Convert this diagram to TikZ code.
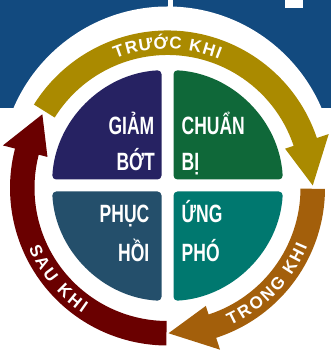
\documentclass[tikz,border=0pt]{standalone}
\usepackage{fontspec}
\setmainfont{Liberation Sans}
\newfontfamily\quadfont[FakeStretch=0.7]{Liberation Sans}
\usetikzlibrary{calc}
\definecolor{bgblue}{RGB}{18,74,127}
\definecolor{cgold}{RGB}{170,138,0}
\definecolor{corange}{RGB}{163,95,11}
\definecolor{cred}{RGB}{106,0,0}
\definecolor{cpurple}{RGB}{38,34,98}
\definecolor{cgreen}{RGB}{15,104,57}
\definecolor{cslate}{RGB}{36,79,107}
\definecolor{cteal}{RGB}{0,120,111}
\tikzset{
  quadtext/.style={text=white, inner sep=0pt, font=\quadfont\bfseries\fontsize{25}{25}\selectfont},
  arcletter/.style={text=white, inner sep=0pt, anchor=base, font=\bfseries\fontsize{17}{17}\selectfont},
  quadshape/.style={rounded corners=4pt}
}
\begin{document}
\begin{tikzpicture}[x=1pt,y=1pt]
\useasboundingbox (0,0) rectangle (331,352);
% background
\fill[bgblue] (0,244) rectangle (331,352);
\fill[white] (167.5,178) circle[radius=167.5];
\fill[white] (168.3,340) rectangle (173.3,352);
\fill[white] (285,343.7) rectangle (303,352);
% ring arrows
\coordinate (C) at (167.5,164);
\begin{scope}[shift={(C)}]
\fill[cgold] (148:133) arc[start angle=148,end angle=18.5,radius=133] -- (18.5:124) -- (1:145.25) -- (18.5:170) -- (18.5:157.5) arc[start angle=18.5,end angle=148,radius=157.5] -- cycle;
\fill[corange] (-0.3:133) arc[start angle=-0.3,end angle=-72,radius=133] -- (-72:124) -- (-89.6:145.25) -- (-72:170) -- (-72:157.5) arc[start angle=-72,end angle=-0.3,radius=157.5] -- cycle;
\fill[cred] (-90.4:133) arc[start angle=-90.4,end angle=-194.5,radius=133] -- (-194.5:124) -- (-210.5:145.25) -- (-194.5:170) -- (-194.5:157.5) arc[start angle=-194.5,end angle=-90.4,radius=157.5] -- cycle;
\end{scope}
% quadrants
\coordinate (Q) at (167.5,166.5);
\begin{scope}[shift={(Q)}]
\fill[cpurple,quadshape] (-6,6) -- (92.98:115.5) arc[start angle=92.98,end angle=177.02,radius=115.5] -- cycle;
\fill[cgreen,quadshape] (6,6) -- (2.98:115.5) arc[start angle=2.98,end angle=87.02,radius=115.5] -- cycle;
\fill[cslate,quadshape] (-6,-6) -- (182.98:115.5) arc[start angle=182.98,end angle=267.02,radius=115.5] -- cycle;
\fill[cteal,quadshape] (6,-6) -- (272.98:115.5) arc[start angle=272.98,end angle=357.02,radius=115.5] -- cycle;
\end{scope}
% quadrant texts
\node[quadtext,anchor=base east] (giam) at (154.5,217) {GIẢM};
\node[quadtext,anchor=base east] (bot) at (155,181) {BỚT};
\node[quadtext,anchor=base west] (chuan) at (181.5,217) {CHUẨN};
\node[quadtext,anchor=base west] (bi) at (181.5,181) {BỊ};
\node[quadtext,anchor=base east] (phuc) at (149.5,129) {PHỤC};
\node[quadtext,anchor=base east] (hoi) at (149.5,90.5) {HỒI};
\node[quadtext,anchor=base west] (ung) at (181.5,129) {ỨNG};
\node[quadtext,anchor=base west] (pho) at (181.5,90.5) {PHÓ};
% arc texts
\foreach \ch/\a [count=\i] in {T/109.8,R/104.4,Ư/98.65,Ớ/92.6,C/86.8,K/78.9,H/73.3,I/69.2}
  \node[arcletter,rotate=\a-90] (tk\i) at ($(C)+(\a:139.1)$) {\ch};
\foreach \ch/\a [count=\i] in {T/-63.5,R/-58.2,O/-52.4,N/-46.6,G/-40.9,K/-32.9,H/-27.4,I/-23.3}
  \node[arcletter,rotate=\a+90] (rk\i) at ($(C)+(\a:151.4)$) {\ch};
\foreach \ch/\a [count=\i] in {S/-154.4,A/-148.9,U/-143.3,K/-134.9,H/-129.4,I/-125.0}
  \node[arcletter,rotate=\a+90] (sk\i) at ($(C)+(\a:151.4)$) {\ch};
\end{tikzpicture}
\end{document}
